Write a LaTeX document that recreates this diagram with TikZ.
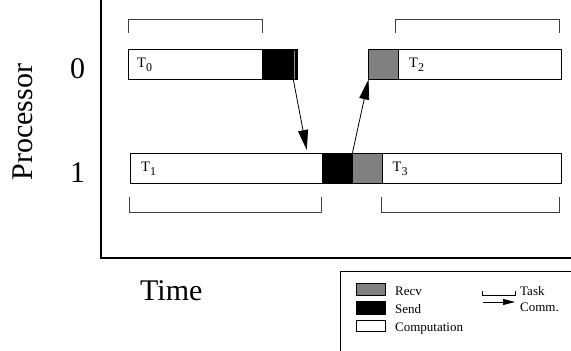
\documentclass[tikz,border=0pt]{standalone}
\usepackage{fontspec}
\setmainfont{Liberation Serif}
\usetikzlibrary{arrows.meta}
\definecolor{recvgray}{RGB}{128,128,128}
\newcommand{\tasklabel}[1]{T\raisebox{-4pt}{\fontsize{12}{12}\selectfont #1}}
\begin{document}
\begin{tikzpicture}[x=1pt,y=-1pt,
  seg/.style={draw, line width=0.8pt, inner sep=0pt, outer sep=0pt, anchor=north west, minimum height=30pt},
  comp/.style={seg, fill=white},
  sendseg/.style={seg, fill=black},
  recvseg/.style={seg, fill=recvgray},
  bracket/.style={line width=0.9pt, draw=black!75},
  comm/.style={line width=0.8pt, -{Triangle[length=20pt,width=10pt]}},
  tlbl/.style={font=\fontsize{14.5}{14.5}\selectfont, anchor=base west, inner sep=0pt},
  big/.style={font=\fontsize{30}{30}\selectfont, inner sep=0pt},
  lgd/.style={font=\fontsize{13}{13}\selectfont, anchor=base west, inner sep=0pt},
  axis/.style={line width=2pt}]
  \useasboundingbox (0,0) rectangle (571,351);

  % axes
  \coordinate (top) at (101,0);
  \coordinate (origin) at (101,258);
  \coordinate (right) at (572,258);
  \draw[axis] (top) -- (origin) -- (right);

  % axis labels
  \node[big, rotate=90] (proc) at (23,122) {Processor};
  \node[big, anchor=base west] (time) at (140,300) {Time};
  \node[big, anchor=base] (p0) at (77.5,78) {0};
  \node[big, anchor=base] (p1) at (77.5,182) {1};

  % processor 0
  \node[comp, minimum width=134pt] (t0) at (128.5,49.5) {};
  \node[sendseg, minimum width=35pt] (s0) at (262.5,49.5) {};
  \draw[black!45, line width=0.7pt] (294.8,50.5) -- (294.8,78.5);
  \node[recvseg, minimum width=30pt] (r0) at (368.5,49.5) {};
  \node[comp, minimum width=163pt] (t2) at (398.5,49.5) {};

  % processor 1
  \node[comp, minimum width=192.5pt] (t1) at (130,153.5) {};
  \node[sendseg, minimum width=30pt] (s1) at (322.5,153.5) {};
  \node[recvseg, minimum width=30pt] (r1) at (352.5,153.5) {};
  \node[comp, minimum width=178.5pt] (t3) at (382.5,153.5) {};

  % task names
  \node[tlbl] at ([xshift=8.5pt]t0.west |- 0,67) {\tasklabel{0}};
  \node[tlbl] at ([xshift=11pt]t1.west |- 0,171.5) {\tasklabel{1}};
  \node[tlbl] at ([xshift=10.5pt]t2.west |- 0,67) {\tasklabel{2}};
  \node[tlbl] at ([xshift=10pt]t3.west |- 0,171.5) {\tasklabel{3}};

  % task brackets
  \draw[bracket] (128.5,33) -- (128.5,19) -- (262.5,19) -- (262.5,33);
  \draw[bracket] (395.7,33) -- (395.7,19) -- (559.3,19) -- (559.3,33);
  \draw[bracket] (129,197.3) -- (129,212.3) -- (321.7,212.3) -- (321.7,197.3);
  \draw[bracket] (381,197.3) -- (381,212.3) -- (559.3,212.3) -- (559.3,197.3);

  % messages
  \coordinate (m0) at (293.3,79.5);
  \coordinate (m0end) at (306.8,150);
  \coordinate (m1) at (352.3,153.5);
  \draw[comm] (m0) -- (m0end);
  \draw[comm] (m1) -- (r0.south west);

  % legend
  \draw[line width=0.8pt] (340,356) -- (340,271) -- (576,271);
  \node[seg, fill=recvgray, minimum width=29pt, minimum height=12.5pt] (lr) at (356,283.3) {};
  \node[seg, fill=black, minimum width=29pt, minimum height=13pt] (ls) at (356,301.7) {};
  \node[seg, fill=white, minimum width=29pt, minimum height=11.5pt] (lc) at (356,320) {};
  \node[lgd] at (395,295) {Recv};
  \node[lgd] at (395,313) {Send};
  \node[lgd] at (395,331.5) {Computation};
  \draw[line width=0.8pt] (482.7,291) -- (482.7,295.5) -- (515,295.5) -- (515,291);
  \coordinate (ca) at (483,302);
  \coordinate (cb) at (515,302);
  \draw[line width=0.8pt, -{Triangle[length=12pt,width=6pt]}] (ca) -- (cb);
  \node[lgd] at (520,295) {Task};
  \node[lgd] at (520,311) {Comm.};
\end{tikzpicture}
\end{document}
